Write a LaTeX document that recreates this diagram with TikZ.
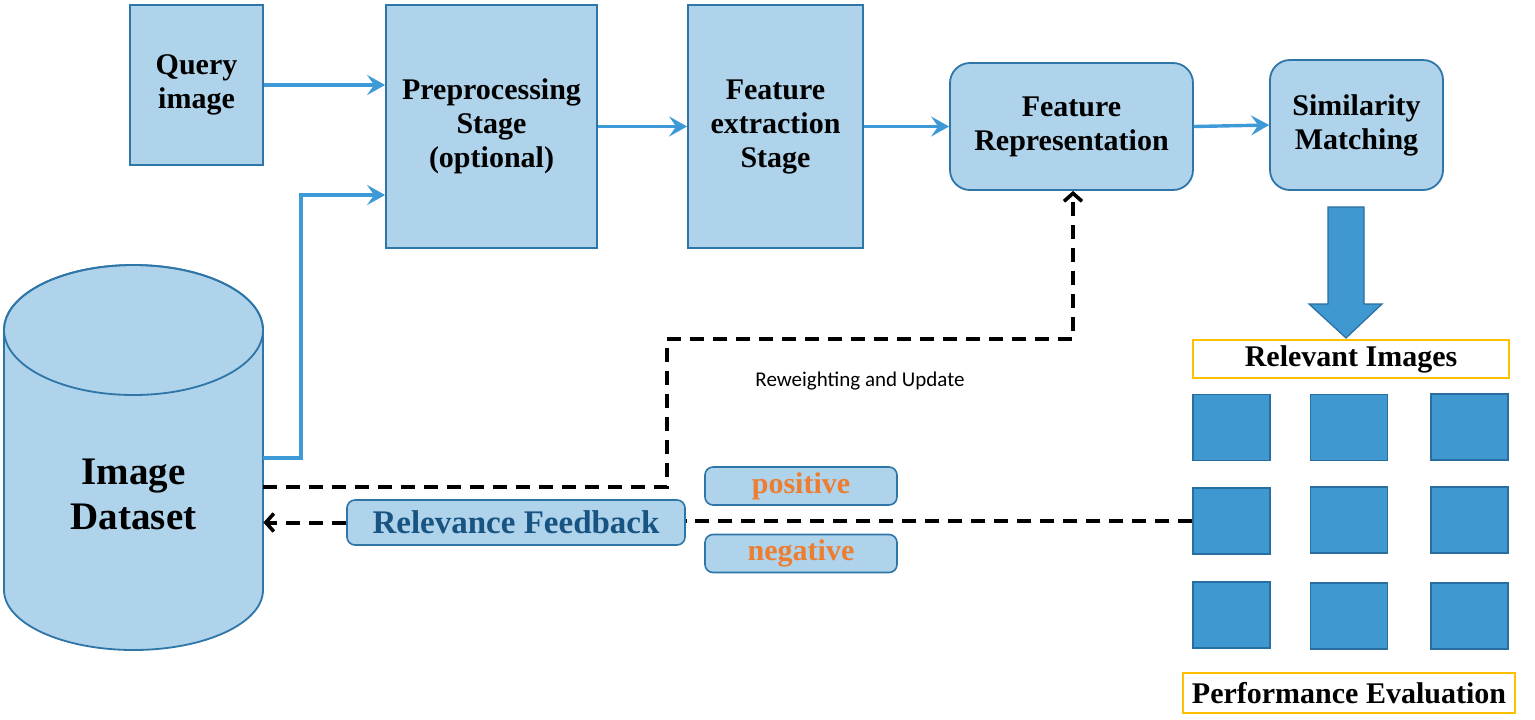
\documentclass[tikz,border=0pt]{standalone}
\usepackage{fontspec}
\setmainfont{Liberation Serif}
\newfontfamily\labelfont{Carlito}
\usetikzlibrary{arrows.meta,calc}
\definecolor{boxfill}{RGB}{174,211,234}
\definecolor{boxline}{RGB}{46,117,168}
\definecolor{flowline}{RGB}{61,154,214}
\definecolor{gridfill}{RGB}{64,152,209}
\definecolor{gridline}{RGB}{40,110,160}
\definecolor{goldline}{RGB}{255,192,0}
\definecolor{rftext}{RGB}{24,84,130}
\definecolor{orangetext}{RGB}{237,125,49}
\tikzset{
  x=0.5pt, y=-0.5pt,
  blockbox/.style={draw=boxline, fill=boxfill, line width=0.9pt, font=\fontsize{15}{17}\selectfont\bfseries, align=center, inner sep=0pt},
  roundbox/.style={blockbox, rounded corners=10pt},
  tagbox/.style={draw=boxline, fill=boxfill, line width=0.8pt, rounded corners=4pt, inner sep=0pt, font=\fontsize{15}{17}\selectfont\bfseries},
  goldbox/.style={draw=goldline, fill=white, line width=0.9pt, inner sep=0pt, font=\fontsize{15}{17}\selectfont\bfseries},
  gridbox/.style={draw=gridline, fill=gridfill, line width=0.6pt, inner sep=0pt, minimum width=38.5pt, minimum height=33pt},
  flow/.style={draw=flowline, line width=1.7pt, -{Stealth[length=9pt,width=10pt,inset=3.5pt]}},
  fb/.style={draw=black, line width=2pt, dash pattern=on 7pt off 4.5pt},
  fbarrow/.style={fb, -{Straight Barb[length=4pt,width=9pt,line width=1.8pt]}},
}
\begin{document}
\begin{tikzpicture}
\useasboundingbox (0,0) rectangle (1535,719);

% blocks
\node[blockbox, minimum width=66.5pt, minimum height=80pt] (query) at (196.5,85) {Query\\image};
\node[blockbox, minimum width=105.5pt, minimum height=121.5pt] (prep) at (491.5,126.5) {Preprocessing\\Stage\\(optional)};
\node[blockbox, minimum width=87.5pt, minimum height=121.5pt] (fext) at (775.5,126.5) {Feature\\extraction\\Stage};
\node[roundbox, minimum width=121.5pt, minimum height=63.5pt] (frep) at (1071.5,126.5) {Feature\\Representation};
\node[roundbox, minimum width=86.5pt, minimum height=65pt] (sim) at (1356.5,125) {Similarity\\Matching};

% cylinder
\path[fill=boxfill, draw=boxline, line width=0.9pt]
  (4,330) -- (4,590) arc[start angle=180, end angle=360, x radius=64.75pt, y radius=30pt]
  -- (263,330) arc[start angle=0, end angle=180, x radius=64.75pt, y radius=32.5pt] -- cycle;
\draw[boxline, line width=0.9pt] (133.5,330) ellipse[x radius=64.75pt, y radius=32.5pt];
\node[minimum width=129.5pt, minimum height=192.5pt, inner sep=0pt] (db) at (133.5,457.5) {};
\node[font=\fontsize{19.5}{22.5}\selectfont\bfseries, align=center] (dblabel) at (133.5,494) {Image\\Dataset};

% flow arrows
\draw[flow] (query.east) -- (prep.west |- query.east);
\coordinate (dbturn) at (301,458);
\draw[flow] ($(db.east)+(0,0.5)$) -- (dbturn) |- ($(prep.west)+(0,68.5)$);
\draw[flow] (prep.east) -- (fext.west);
\draw[flow] (fext.east) -- (frep.west);
\draw[flow] (frep.east) -- (sim.west);

% big arrow
\path[fill=gridfill, draw=gridline, line width=0.6pt]
  (1328,207) -- (1364,207) -- (1364,304) -- (1382,304) -- (1346,338) -- (1309,304) -- (1328,304) -- cycle;

% relevant images
\node[goldbox, minimum width=158pt, minimum height=19pt] (relimg) at (1351,359) {Relevant Images};
\node[gridbox] (g11) at (1231.5,427.5) {};
\node[gridbox] (g12) at (1349,427.5) {};
\node[gridbox] (g13) at (1469.5,427) {};
\node[gridbox] (g21) at (1231.5,521) {};
\node[gridbox] (g22) at (1349,520) {};
\node[gridbox] (g23) at (1469.5,520) {};
\node[gridbox] (g31) at (1231.5,615) {};
\node[gridbox] (g32) at (1349,616) {};
\node[gridbox] (g33) at (1469.5,616) {};
\node[goldbox, minimum width=166pt, minimum height=20pt] (perf) at (1349,693) {Performance Evaluation};

% feedback
\node[tagbox, minimum width=169pt, minimum height=22.5pt, text=rftext, font=\fontsize{16.5}{18}\selectfont\bfseries] (rf) at (516,522.5) {Relevance Feedback};
\node[tagbox, minimum width=96pt, minimum height=19pt, text=orangetext] (pos) at (801,486) {positive};
\node[tagbox, minimum width=96pt, minimum height=19pt, text=orangetext] (neg) at (801,553.5) {negative};

\draw[fb] (g21.west) -- (rf.east |- g21.west);
\draw[fbarrow] (rf.west) -- (db.east |- rf.west);

\coordinate (rwa) at (667,487);
\coordinate (rwb) at (667,339);
\coordinate (rwc) at (1073,339);
\draw[fbarrow] ($(db.east)+(0,29.5)$) -- (rwa) -- (rwb) -- (rwc) -- (rwc |- frep.south);
\node[font=\labelfont\fontsize{10.5}{12}\selectfont] (rwlabel) at (860,381) {Reweighting and Update};
\end{tikzpicture}
\end{document}
